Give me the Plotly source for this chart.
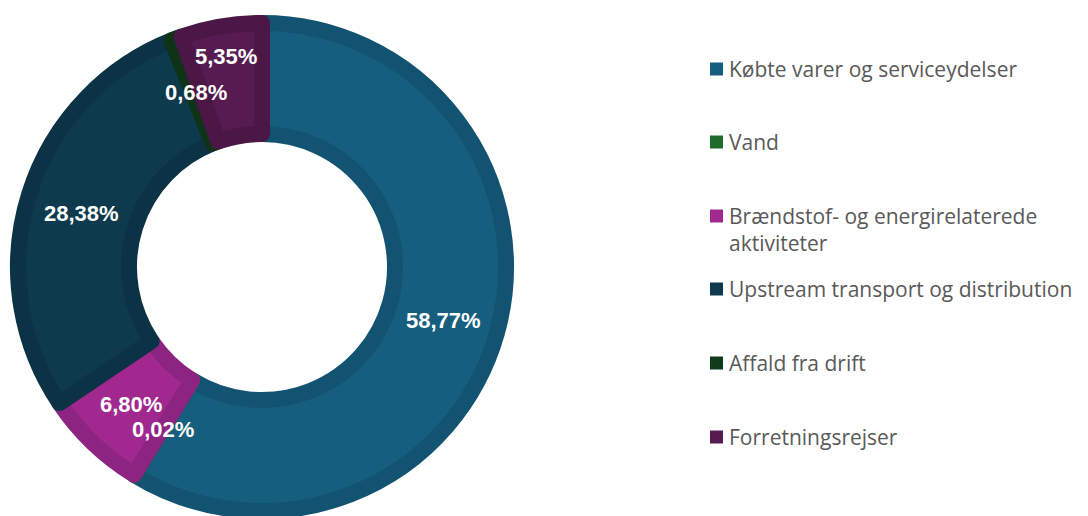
import math
import plotly.graph_objects as go

categories = ["Købte varer og serviceydelser", "Vand", "Brændstof- og energirelaterede<br>aktiviteter",
              "Upstream transport og distribution", "Affald fra drift", "Forretningsrejser"]
values = [58.77, 0.02, 6.80, 28.38, 0.68, 5.35]
fill_colors = ["#165E7D", "#1E6B2A", "#A0288F", "#0E3A4E", "#113A1A", "#561B50"]
edge_colors = ["#125372", "#1A5E25", "#8E2481", "#0B3345", "#0F3317", "#4B1746"]

# page body has an 8px margin -> work in figure coordinates
OFF = 8
W, H = 1088 - OFF, 516 - OFF
cx, cy = 262 - OFF, 267 - OFF     # pie centre (px from figure top-left)
R_OUT, R_IN = 252, 125            # visible outer / inner radius
LW = 16
R = R_OUT - LW / 2                # geometric radius (stroke adds LW/2 outside)
hole = (R_IN + LW / 2) / R

fig = go.Figure()
fig.add_trace(go.Pie(
    labels=categories, values=values, sort=False, direction="clockwise", rotation=0,
    hole=hole,
    marker=dict(colors=fill_colors, line=dict(color=edge_colors, width=LW)),
    textinfo="none", showlegend=False, hoverinfo="label+percent",
    domain=dict(x=[(cx - R) / W, (cx + R) / W], y=[(H - cy - R) / H, (H - cy + R) / H]),
))

annotations = []
# data labels at the slice centroids (the last one pushed outward as in the original)
label_r = [(R_OUT + R_IN) / 2] * 5 + [216]
total = sum(values)
cum = 0.0
for i, v in enumerate(values):
    mid = (cum + v / 2) / total * 2 * math.pi
    cum += v
    x = cx + label_r[i] * math.sin(mid)
    y = cy - label_r[i] * math.cos(mid) + 2
    annotations.append(dict(x=x / W, y=(H - y) / H, xref="paper", yref="paper",
                            xanchor="center", yanchor="middle", showarrow=False,
                            text=f"{v / total * 100:.2f}%".replace(".", ","),
                            font=dict(size=22, color="white", family="Liberation Sans, Arial", weight="bold")))

legend_y = [69, 142, 229.5, 289, 363, 437]
square_y = [69, 142, 216, 289, 363, 437]
shapes = []
for i, (name, col) in enumerate(zip(categories, fill_colors)):
    ys = square_y[i] - OFF
    shapes.append(dict(type="rect", xref="paper", yref="paper",
                       x0=(710 - OFF) / W, x1=(723 - OFF) / W,
                       y0=(H - ys - 6.5) / H, y1=(H - ys + 6.5) / H,
                       fillcolor=col, line=dict(width=0)))
    yt = legend_y[i] - OFF
    annotations.append(dict(x=(727 - OFF) / W, y=(H - yt) / H, xref="paper", yref="paper",
                            xanchor="left", yanchor="middle", align="left", showarrow=False,
                            text=name, font=dict(size=21, color="#595959", family="Open Sans")))

fig.update_layout(width=W, height=H, margin=dict(l=0, r=0, t=0, b=0),
                  paper_bgcolor="white", plot_bgcolor="white", separators=",.",
                  shapes=shapes, annotations=annotations)
fig.write_html("out.html")
